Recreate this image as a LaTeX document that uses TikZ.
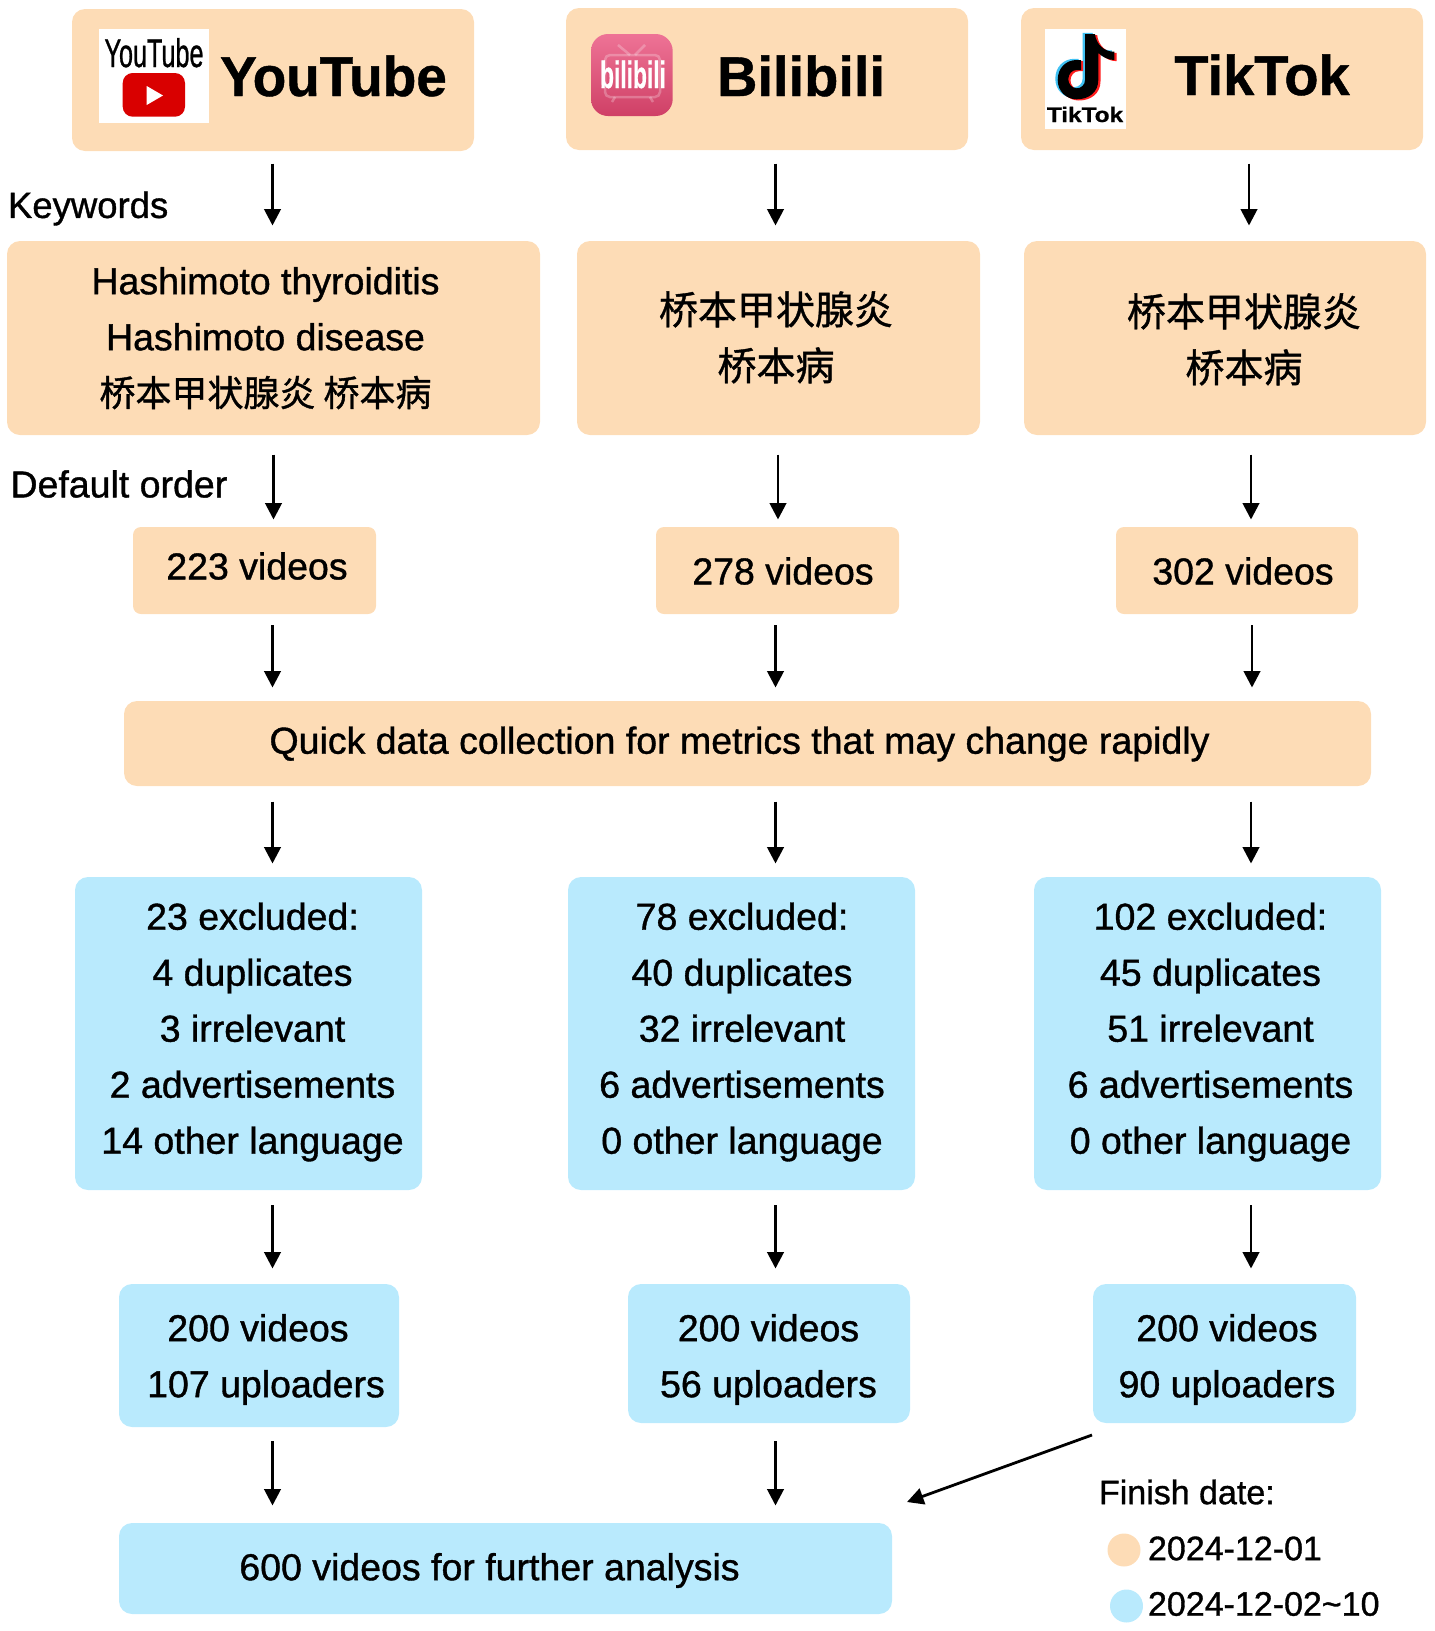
\documentclass[tikz,border=0pt]{standalone}
\usepackage{fontspec}
\setmainfont[FakeBold=1]{Liberation Sans}
\newfontfamily\cjk[FakeBold=1]{Noto Sans CJK SC}
\newfontfamily\titlefont[FakeBold=0.8]{Liberation Sans Bold}
\usetikzlibrary{arrows.meta,calc}
\definecolor{peach}{HTML}{FDDCB6}
\definecolor{sky}{HTML}{B9EAFD}
\definecolor{bilitop}{HTML}{EE7396}
\definecolor{bilibot}{HTML}{CF4066}
\newcommand\bx[7][13]{\node[boxbase,rounded corners=#1pt,fill=#7,minimum width={(#5-#3)*1pt},minimum height={(#6-#4)*1pt}] (#2) at ({(#3+#5)/2},{(#4+#6)/2}) {};}
\newcommand\notepath{(1085,34) -- (1095,34) .. controls (1096,44) and (1104,52) .. (1114.3,51.7) -- (1114.3,60) .. controls (1108,60) and (1103,57) .. (1098.3,53) -- (1098.3,80) .. controls (1098.3,92) and (1089,99.3) .. (1076.7,99.3) .. controls (1066,99.3) and (1057.7,91) .. (1057.7,80) .. controls (1057.7,68) and (1066,60) .. (1076.7,60) -- (1081,60) -- (1081,70) -- (1076.7,70) .. controls (1072,70) and (1068.3,74) .. (1068.3,79.3) .. controls (1068.3,84) and (1072,88.3) .. (1076.7,88.3) .. controls (1081,88.3) and (1085,85) .. (1085,80) -- cycle}
\tikzset{
  boxbase/.style={inner sep=0pt,outer sep=0pt,draw=none},
  txt/.style={inner sep=0pt,outer sep=0pt,align=center,text=black,font=\fontsize{37.5}{56}\selectfont},
  smalltxt/.style={inner sep=0pt,outer sep=0pt,align=left,text=black,anchor=west,font=\fontsize{34}{40}\selectfont},
  cjktxt/.style={inner sep=0pt,outer sep=0pt,align=center,text=black,font=\fontsize{39}{56}\selectfont\cjk},
  title/.style={inner sep=0pt,outer sep=0pt,anchor=base,text=black,font=\fontsize{56}{60}\selectfont\titlefont},
  conn/.style 2 args={draw=black,line width=2.8pt,-{Triangle[width=16.5pt,length=16.5pt]},shorten <=#1pt,shorten >=#2pt},
}
\begin{document}
\begin{tikzpicture}[x=1pt,y=-1pt]
\useasboundingbox (0,0) rectangle (1435,1631);
% boxes
\bx{yt}{72}{9}{474}{151}{peach}
\bx{bl}{566}{8}{968}{150}{peach}
\bx{tk}{1021}{8}{1423}{150}{peach}
\bx{kwa}{7}{241}{540}{435}{peach}
\bx{kwb}{577}{241}{980}{435}{peach}
\bx{kwc}{1024}{241}{1426}{435}{peach}
\bx[8]{va}{133}{527}{376}{614}{peach}
\bx[8]{vb}{656}{527}{899}{614}{peach}
\bx[8]{vc}{1116}{527}{1358}{614}{peach}
\bx{quick}{124}{701}{1371}{786}{peach}
\bx{exa}{75}{877}{422}{1190}{sky}
\bx{exb}{568}{877}{915}{1190}{sky}
\bx{exc}{1034}{877}{1381}{1190}{sky}
\bx{upa}{119}{1284}{399}{1427}{sky}
\bx{upb}{628}{1284}{910}{1423}{sky}
\bx{upc}{1093}{1284}{1356}{1423}{sky}
\bx{final}{119}{1523}{892}{1614}{sky}
% titles
\node[title] (tya) at (333.5,96) {\scalebox{.98}[1]{YouTube}};
\node[title] (tbl) at (801,96) {Bilibili};
\node[title] (ttk) at (1262,95) {TikTok};
% YouTube logo
\fill[white] (99,29) rectangle (209.3,122.7);
\node[inner sep=0pt,anchor=base,font=\fontsize{40}{44}\selectfont] (ytlogo) at (154,67) {\scalebox{.63}[1]{YouTube}};
\fill[red!85!black,rounded corners=10pt] (122.7,73) rectangle (185,116.7);
\fill[white] (146.7,86) -- (146.7,105) -- (163,95.5) -- cycle;
% Bilibili logo
\shade[rounded corners=17pt,top color=bilitop,bottom color=bilibot] (591,34) rectangle (672.7,116);
\draw[white,opacity=.25,line width=2.5pt,rounded corners=5pt] (605,55) rectangle (660,97);
\draw[white,opacity=.25,line width=2.5pt] (618,45) -- (630,55) (645,45) -- (635,55) (615,97) -- (612,102) (650,97) -- (653,102);
\node[inner sep=0pt,anchor=base,text=white,font=\fontsize{38}{40}\selectfont\titlefont] (bllogo) at (633,88) {\scalebox{.6}[1]{bilibili}};
% TikTok logo
\fill[white] (1045,29) rectangle (1125.7,129.3);
\begin{scope}[shift={(-2.4,-1.2)}]\fill[cyan!75!white] \notepath;\end{scope}
\begin{scope}[shift={(2.2,1.2)}]\fill[red!85!pink] \notepath;\end{scope}
\fill[black] \notepath;
\node[inner sep=0pt,anchor=base,font=\fontsize{21}{24}\selectfont\titlefont] (tklogo) at (1085,122) {\scalebox{1.16}[1]{TikTok}};
% side labels
\node[txt,anchor=west,font=\fontsize{36.5}{56}\selectfont] (kwlab) at (8,208.5) {Keywords};
\node[txt,anchor=west] (dolab) at (10.5,484) {Default order};
% keyword text
\node[txt] (kwta) at (265.5,339) {\strut Hashimoto thyroiditis\\Hashimoto disease\\{\cjk\fontsize{36}{56}\selectfont 桥本甲状腺炎 桥本病}\strut};
\node[cjktxt] (kwtb) at (776,341) {\strut 桥本甲状腺炎\\桥本病\strut};
\node[cjktxt] (kwtc) at (1244,343) {\strut 桥本甲状腺炎\\桥本病\strut};
% counts
\node[txt] (vta) at (257,566) {223 videos};
\node[txt] (vtb) at (783,571) {278 videos};
\node[txt] (vtc) at (1243,571) {302 videos};
\node[txt] (qt) at (739.5,744) {Quick data collection for metrics that may change rapidly};
\node[txt] (exta) at (252.5,1030.5) {\strut 23 excluded:\\4 duplicates\\3 irrelevant\\2 advertisements\\14 other language\strut};
\node[txt] (extb) at (742,1030.5) {\strut 78 excluded:\\40 duplicates\\32 irrelevant\\6 advertisements\\0 other language\strut};
\node[txt] (extc) at (1210.5,1030.5) {\strut 102 excluded:\\45 duplicates\\51 irrelevant\\6 advertisements\\0 other language\strut};
\node[txt] (upta) at (266,1358) {\strut 200 videos\hspace*{16pt}\\107 uploaders\strut};
\node[txt] (uptb) at (768.5,1358) {\strut 200 videos\\56 uploaders\strut};
\node[txt] (uptc) at (1227,1358) {\strut 200 videos\\90 uploaders\strut};
\node[txt] (ft) at (489.5,1570.5) {600 videos for further analysis};
% legend
\node[smalltxt] (ldt) at (1099,1492) {Finish date:};
\node[circle,fill=peach,minimum size=33pt,inner sep=0pt] (lca) at (1124,1550) {};
\node[circle,fill=sky,minimum size=33pt,inner sep=0pt] (lcb) at (1126.5,1606) {};
\node[smalltxt] (lta) at (1148,1548.5) {2024-12-01};
\node[smalltxt] (ltb) at (1148,1604) {2024-12-02\textasciitilde10};
% arrow columns
\coordinate (ca) at (272.5,0);
\coordinate (cab) at (273.5,0);
\coordinate (cb) at (775.5,0);
\coordinate (cbb) at (778,0);
\coordinate (cca) at (1249,0);
\coordinate (ccb) at (1251,0);
\coordinate (ccc) at (1252,0);
\draw[conn={12.5}{15.5}] (yt.south -| ca) -- (kwa.north -| ca);
\draw[conn={13.5}{15.5}] (bl.south -| cb) -- (kwb.north -| cb);
\draw[conn={13.5}{15.5}] (tk.south -| cca) -- (kwc.north -| cca);
\draw[conn={19.5}{7.5}] (kwa.south -| cab) -- (va.north -| cab);
\draw[conn={19.5}{7.5}] (kwb.south -| cbb) -- (vb.north -| cbb);
\draw[conn={19.5}{7.5}] (kwc.south -| ccb) -- (vc.north -| ccb);
\draw[conn={11}{13.5}] (va.south -| ca) -- (quick.north -| ca);
\draw[conn={11}{13.5}] (vb.south -| cb) -- (quick.north -| cb);
\draw[conn={11}{13.5}] (vc.south -| ccc) -- (quick.north -| ccc);
\draw[conn={15.5}{13.5}] (quick.south -| ca) -- (exa.north -| ca);
\draw[conn={15.5}{13.5}] (quick.south -| cb) -- (exb.north -| cb);
\draw[conn={15.5}{13.5}] (quick.south -| ccb) -- (exc.north -| ccb);
\draw[conn={15}{15.5}] (exa.south -| ca) -- (upa.north -| ca);
\draw[conn={15}{15.5}] (exb.south -| cb) -- (upb.north -| cb);
\draw[conn={15}{15.5}] (exc.south -| ccb) -- (upc.north -| ccb);
\draw[conn={14}{17.5}] (upa.south -| ca) -- (final.north -| ca);
\draw[conn={18}{17.5}] (upb.south -| cb) -- (final.north -| cb);
\coordinate (dga) at ($(upc.south west)+(-1,12)$);
\coordinate (dgb) at ($(final.north east)+(15,-21)$);
\draw[conn={0}{0}] (dga) -- (dgb);
\end{tikzpicture}
\end{document}
